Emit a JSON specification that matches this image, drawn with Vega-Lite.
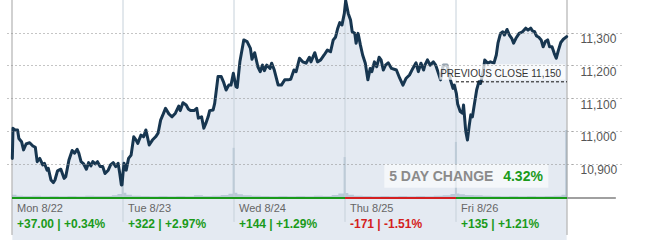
{
  "$schema": "https://vega.github.io/schema/vega-lite/v6.json",
  "width": 565,
  "height": 198,
  "autosize": {"type": "none"},
  "padding": {"left": 7, "top": 0, "right": 73, "bottom": 42},
  "background": "white",
  "config": {
    "view": {"stroke": null},
    "font": "Liberation Sans"
  },
  "datasets": {
    "price": [
      {"t":0.003,"p":10916},{"t":0.009,"p":11008},{"t":0.027,"p":11003},{"t":0.05,"p":11003},{"t":0.062,"p":10977},{"t":0.086,"p":10967},{"t":0.104,"p":10942},{"t":0.127,"p":10960},{"t":0.159,"p":10964},{"t":0.188,"p":10954},{"t":0.21,"p":10950},{"t":0.227,"p":10906},{"t":0.25,"p":10916},{"t":0.277,"p":10896},{"t":0.292,"p":10901},{"t":0.316,"p":10880},{"t":0.327,"p":10886},{"t":0.351,"p":10850},{"t":0.372,"p":10842},{"t":0.387,"p":10850},{"t":0.41,"p":10878},{"t":0.44,"p":10883},{"t":0.469,"p":10855},{"t":0.484,"p":10860},{"t":0.513,"p":10911},{"t":0.542,"p":10940},{"t":0.564,"p":10932},{"t":0.587,"p":10944},{"t":0.602,"p":10932},{"t":0.622,"p":10906},{"t":0.646,"p":10899},{"t":0.67,"p":10883},{"t":0.69,"p":10903},{"t":0.711,"p":10893},{"t":0.728,"p":10906},{"t":0.75,"p":10899},{"t":0.77,"p":10906},{"t":0.794,"p":10891},{"t":0.817,"p":10891},{"t":0.838,"p":10870},{"t":0.867,"p":10880},{"t":0.888,"p":10896},{"t":0.912,"p":10903},{"t":0.935,"p":10891},{"t":0.956,"p":10901},{"t":0.971,"p":10870},{"t":0.985,"p":10835},{"t":0.991,"p":10835},{"t":1.0,"p":10870},
      {"t":1.009,"p":10901},{"t":1.029,"p":10880},{"t":1.05,"p":10916},{"t":1.073,"p":10926},{"t":1.097,"p":10982},{"t":1.118,"p":10972},{"t":1.133,"p":10962},{"t":1.162,"p":10987},{"t":1.186,"p":10982},{"t":1.206,"p":11003},{"t":1.236,"p":10957},{"t":1.265,"p":10972},{"t":1.294,"p":10982},{"t":1.316,"p":10993},{"t":1.339,"p":11033},{"t":1.363,"p":11052},{"t":1.383,"p":11069},{"t":1.413,"p":11052},{"t":1.442,"p":11043},{"t":1.472,"p":11054},{"t":1.502,"p":11076},{"t":1.516,"p":11062},{"t":1.54,"p":11086},{"t":1.569,"p":11079},{"t":1.59,"p":11066},{"t":1.611,"p":11062},{"t":1.64,"p":11062},{"t":1.664,"p":11069},{"t":1.679,"p":11039},{"t":1.708,"p":11043},{"t":1.728,"p":11008},{"t":1.746,"p":11023},{"t":1.767,"p":11043},{"t":1.781,"p":11062},{"t":1.812,"p":11064},{"t":1.826,"p":11084},{"t":1.856,"p":11166},{"t":1.885,"p":11166},{"t":1.905,"p":11150},{"t":1.929,"p":11125},{"t":1.953,"p":11140},{"t":1.973,"p":11140},{"t":1.994,"p":11176},
      {"t":2.018,"p":11135},{"t":2.029,"p":11133},{"t":2.053,"p":11211},{"t":2.088,"p":11278},{"t":2.118,"p":11273},{"t":2.148,"p":11252},{"t":2.162,"p":11219},{"t":2.186,"p":11239},{"t":2.215,"p":11196},{"t":2.236,"p":11181},{"t":2.257,"p":11201},{"t":2.274,"p":11184},{"t":2.295,"p":11201},{"t":2.325,"p":11191},{"t":2.339,"p":11207},{"t":2.363,"p":11186},{"t":2.398,"p":11140},{"t":2.427,"p":11140},{"t":2.457,"p":11156},{"t":2.487,"p":11156},{"t":2.511,"p":11158},{"t":2.54,"p":11186},{"t":2.56,"p":11181},{"t":2.59,"p":11222},{"t":2.619,"p":11211},{"t":2.649,"p":11207},{"t":2.679,"p":11225},{"t":2.693,"p":11211},{"t":2.728,"p":11239},{"t":2.752,"p":11211},{"t":2.781,"p":11217},{"t":2.812,"p":11232},{"t":2.841,"p":11247},{"t":2.87,"p":11242},{"t":2.894,"p":11278},{"t":2.914,"p":11286},{"t":2.935,"p":11314},{"t":2.953,"p":11331},{"t":2.973,"p":11324},{"t":2.994,"p":11359},
      {"t":3.006,"p":11398},{"t":3.029,"p":11359},{"t":3.05,"p":11339},{"t":3.065,"p":11303},{"t":3.088,"p":11298},{"t":3.1,"p":11268},{"t":3.118,"p":11298},{"t":3.139,"p":11262},{"t":3.159,"p":11232},{"t":3.183,"p":11207},{"t":3.206,"p":11156},{"t":3.227,"p":11191},{"t":3.242,"p":11181},{"t":3.265,"p":11211},{"t":3.286,"p":11196},{"t":3.307,"p":11225},{"t":3.325,"p":11217},{"t":3.345,"p":11186},{"t":3.365,"p":11201},{"t":3.389,"p":11208},{"t":3.419,"p":11191},{"t":3.463,"p":11186},{"t":3.493,"p":11161},{"t":3.522,"p":11140},{"t":3.551,"p":11161},{"t":3.581,"p":11171},{"t":3.611,"p":11191},{"t":3.64,"p":11208},{"t":3.661,"p":11181},{"t":3.684,"p":11207},{"t":3.708,"p":11186},{"t":3.72,"p":11201},{"t":3.743,"p":11217},{"t":3.767,"p":11201},{"t":3.796,"p":11211},{"t":3.817,"p":11201},{"t":3.847,"p":11171},{"t":3.861,"p":11156},{"t":3.885,"p":11201},{"t":3.92,"p":11201},{"t":3.95,"p":11156},{"t":3.973,"p":11130},{"t":3.985,"p":11140},
      {"t":4.003,"p":11115},{"t":4.015,"p":11082},{"t":4.038,"p":11059},{"t":4.059,"p":11054},{"t":4.068,"p":11079},{"t":4.088,"p":10998},{"t":4.103,"p":10972},{"t":4.118,"p":11013},{"t":4.133,"p":11049},{"t":4.148,"p":11043},{"t":4.162,"p":11074},{"t":4.186,"p":11125},{"t":4.206,"p":11150},{"t":4.221,"p":11145},{"t":4.245,"p":11181},{"t":4.259,"p":11217},{"t":4.286,"p":11207},{"t":4.31,"p":11211},{"t":4.342,"p":11207},{"t":4.363,"p":11232},{"t":4.378,"p":11268},{"t":4.401,"p":11298},{"t":4.422,"p":11303},{"t":4.436,"p":11293},{"t":4.46,"p":11310},{"t":4.481,"p":11293},{"t":4.502,"p":11283},{"t":4.519,"p":11268},{"t":4.54,"p":11283},{"t":4.569,"p":11298},{"t":4.599,"p":11303},{"t":4.628,"p":11314},{"t":4.649,"p":11308},{"t":4.673,"p":11314},{"t":4.688,"p":11306},{"t":4.708,"p":11303},{"t":4.726,"p":11290},{"t":4.746,"p":11286},{"t":4.767,"p":11278},{"t":4.785,"p":11257},{"t":4.805,"p":11273},{"t":4.826,"p":11278},{"t":4.843,"p":11257},{"t":4.865,"p":11257},{"t":4.885,"p":11237},{"t":4.903,"p":11222},{"t":4.923,"p":11247},{"t":4.944,"p":11270},{"t":4.967,"p":11280},{"t":4.997,"p":11288}
    ],
    "volbase": [
      {"t":0.0,"v":10},{"t":0.04,"v":7},{"t":0.1,"v":6},{"t":0.18,"v":7},{"t":0.26,"v":5},{"t":0.34,"v":6},{"t":0.42,"v":5},{"t":0.5,"v":6},{"t":0.58,"v":5},{"t":0.66,"v":7},{"t":0.74,"v":6},{"t":0.82,"v":6},{"t":0.9,"v":8},{"t":0.95,"v":12},
      {"t":1.0,"v":16},{"t":1.03,"v":10},{"t":1.08,"v":7},{"t":1.16,"v":6},{"t":1.24,"v":5},{"t":1.32,"v":6},{"t":1.4,"v":5},{"t":1.48,"v":6},{"t":1.56,"v":5},{"t":1.64,"v":8},{"t":1.72,"v":6},{"t":1.8,"v":7},{"t":1.88,"v":9},{"t":1.95,"v":13},
      {"t":2.0,"v":16},{"t":2.03,"v":11},{"t":2.08,"v":8},{"t":2.16,"v":7},{"t":2.24,"v":6},{"t":2.32,"v":5},{"t":2.4,"v":6},{"t":2.48,"v":5},{"t":2.56,"v":6},{"t":2.64,"v":5},{"t":2.72,"v":7},{"t":2.8,"v":6},{"t":2.88,"v":9},{"t":2.94,"v":14},
      {"t":3.0,"v":15},{"t":3.03,"v":10},{"t":3.08,"v":7},{"t":3.16,"v":6},{"t":3.24,"v":5},{"t":3.32,"v":6},{"t":3.4,"v":5},{"t":3.48,"v":6},{"t":3.56,"v":5},{"t":3.64,"v":6},{"t":3.72,"v":5},{"t":3.8,"v":7},{"t":3.88,"v":8},{"t":3.95,"v":12},
      {"t":4.0,"v":14},{"t":4.03,"v":11},{"t":4.08,"v":9},{"t":4.16,"v":8},{"t":4.24,"v":7},{"t":4.32,"v":6},{"t":4.4,"v":5},{"t":4.48,"v":6},{"t":4.56,"v":5},{"t":4.64,"v":6},{"t":4.72,"v":5},{"t":4.8,"v":6},{"t":4.88,"v":7},{"t":4.95,"v":10},{"t":5.0,"v":10}
    ],
    "volspike": [
      {"t":0.997,"v":145},{"t":1.997,"v":152},{"t":2.997,"v":124},{"t":3.999,"v":170},{"t":4.994,"v":206}
    ],
    "seps": [
      {"t":0,"top":11400,"bot":10682,"kind":"edge"},{"t":1,"top":11400,"bot":10722,"kind":"inner"},{"t":2,"top":11400,"bot":10722,"kind":"inner"},{"t":3,"top":11400,"bot":10722,"kind":"inner"},{"t":4,"top":11400,"bot":10722,"kind":"inner"},{"t":5,"top":11400,"bot":10682,"kind":"edge"}
    ],
    "base": [
      {"a":0,"b":3,"lvl":10795,"kind":"up"},{"a":3,"b":4,"lvl":10795,"kind":"down"},{"a":4,"b":5,"lvl":10795,"kind":"up"},{"a":5,"b":5.44,"lvl":10795,"kind":"axis"}
    ],
    "days": [
      {"t":0,"day":"Mon 8/22","chg":"+37.00 | +0.34%","dir":"up"},
      {"t":1,"day":"Tue 8/23","chg":"+322 | +2.97%","dir":"up"},
      {"t":2,"day":"Wed 8/24","chg":"+144 | +1.29%","dir":"up"},
      {"t":3,"day":"Thu 8/25","chg":"-171 | -1.51%","dir":"down"},
      {"t":4,"day":"Fri 8/26","chg":"+135 | +1.21%","dir":"up"}
    ]
  },
  "layer": [
    {
      "data": {"name": "price"},
      "mark": {"type": "area", "color": "#e4eaf2", "opacity": 1},
      "encoding": {
        "x": {"field": "t", "type": "quantitative", "scale": {"domain": [0, 5], "nice": false, "zero": false}, "axis": null},
        "y": {
          "field": "p", "type": "quantitative",
          "scale": {"domain": [10795, 11400], "nice": false, "zero": false},
          "axis": {
            "orient": "right", "values": [10900, 11000, 11100, 11200, 11300],
            "labelExpr": "format(datum.value, ',')",
            "title": null, "domain": false,
            "grid": true, "gridDash": [1, 3], "gridColor": "#8a8a8a", "gridWidth": 1, "gridOpacity": 1,
            "ticks": true, "tickSize": 50, "tickDash": [1, 3], "tickColor": "#8a8a8a", "tickWidth": 1,
            "labelPadding": -42, "labelAlign": "left", "labelBaseline": "top", "labelOffset": 1,
            "labelFont": "Liberation Sans", "labelFontSize": 12, "labelColor": "#555555",
            "zindex": 1
          }
        }
      }
    },
    {
      "data": {"name": "volbase"},
      "mark": {"type": "area", "interpolate": "step-after", "color": "#b9c9d7", "opacity": 1},
      "encoding": {
        "x": {"field": "t", "type": "quantitative"},
        "y": {"field": "v", "type": "quantitative", "scale": {"domain": [0, 600], "nice": false}, "axis": null}
      }
    },
    {
      "data": {"name": "volspike"},
      "mark": {"type": "bar", "width": 2, "color": "#b4c5d4"},
      "encoding": {
        "x": {"field": "t", "type": "quantitative"},
        "y": {"field": "v", "type": "quantitative", "scale": {"domain": [0, 600], "nice": false}, "axis": null}
      }
    },
    {
      "data": {"name": "seps"},
      "transform": [{"filter": "datum.kind === 'inner'"}],
      "mark": {"type": "rule", "strokeWidth": 1, "color": "#c6d1da"},
      "encoding": {
        "x": {"field": "t", "type": "quantitative"},
        "y": {"field": "top", "type": "quantitative", "scale": {"domain": [10795, 11400], "nice": false, "zero": false}, "axis": null},
        "y2": {"field": "bot"}
      }
    },
    {
      "data": {"name": "seps"},
      "transform": [{"filter": "datum.kind === 'edge'"}],
      "mark": {"type": "rule", "strokeWidth": 1, "color": "#a3a3a3"},
      "encoding": {
        "x": {"field": "t", "type": "quantitative"},
        "y": {"field": "top", "type": "quantitative", "scale": {"domain": [10795, 11400], "nice": false, "zero": false}, "axis": null},
        "y2": {"field": "bot"}
      }
    },
    {
      "data": {"name": "price"},
      "mark": {"type": "line", "color": "#173650", "strokeWidth": 3, "strokeJoin": "round", "strokeCap": "round"},
      "encoding": {
        "x": {"field": "t", "type": "quantitative"},
        "y": {"field": "p", "type": "quantitative", "scale": {"domain": [10795, 11400], "nice": false, "zero": false}, "axis": null}
      }
    },
    {
      "data": {"name": "base"},
      "transform": [{"filter": "datum.kind === 'up'"}],
      "mark": {"type": "rule", "strokeWidth": 2, "color": "#1a9a1a"},
      "encoding": {
        "x": {"field": "a", "type": "quantitative"},
        "x2": {"field": "b"},
        "y": {"field": "lvl", "type": "quantitative", "scale": {"domain": [10795, 11400], "nice": false, "zero": false}, "axis": null}
      }
    },
    {
      "data": {"name": "base"},
      "transform": [{"filter": "datum.kind === 'down'"}],
      "mark": {"type": "rule", "strokeWidth": 2, "color": "#d42020"},
      "encoding": {
        "x": {"field": "a", "type": "quantitative"},
        "x2": {"field": "b"},
        "y": {"field": "lvl", "type": "quantitative", "scale": {"domain": [10795, 11400], "nice": false, "zero": false}, "axis": null}
      }
    },
    {
      "data": {"name": "base"},
      "transform": [{"filter": "datum.kind === 'axis'"}],
      "mark": {"type": "rule", "strokeWidth": 2, "color": "#a0a0a0"},
      "encoding": {
        "x": {"field": "a", "type": "quantitative"},
        "x2": {"field": "b"},
        "y": {"field": "lvl", "type": "quantitative", "scale": {"domain": [10795, 11400], "nice": false, "zero": false}, "axis": null}
      }
    },
    {
      "data": {"values": [{"a": 3.85, "b": 4.982, "lo": 11156, "hi": 11204}]},
      "mark": {"type": "rect", "color": "white", "opacity": 0.75},
      "encoding": {
        "x": {"field": "a", "type": "quantitative"},
        "x2": {"field": "b"},
        "y": {"field": "lo", "type": "quantitative", "scale": {"domain": [10795, 11400], "nice": false, "zero": false}, "axis": null},
        "y2": {"field": "hi"}
      }
    },
    {
      "data": {"values": [{"a": 4, "b": 5, "close": 11150}]},
      "mark": {"type": "rule", "color": "#111111", "strokeWidth": 1, "strokeDash": [3, 2]},
      "encoding": {
        "x": {"field": "a", "type": "quantitative"},
        "x2": {"field": "b"},
        "y": {"field": "close", "type": "quantitative", "scale": {"domain": [10795, 11400], "nice": false, "zero": false}, "axis": null}
      }
    },
    {
      "data": {"values": [{"x": 4.947, "close": 11150, "label": "PREVIOUS CLOSE 11,150"}]},
      "mark": {"type": "text", "align": "right", "baseline": "alphabetic", "font": "Liberation Sans", "fontSize": 10, "color": "#333333", "dy": -5},
      "encoding": {
        "x": {"field": "x", "type": "quantitative"},
        "y": {"field": "close", "type": "quantitative", "scale": {"domain": [10795, 11400], "nice": false, "zero": false}, "axis": null},
        "text": {"field": "label", "type": "nominal"}
      }
    },
    {
      "data": {"values": [{"a": 3.354, "b": 4.832, "lo": 10826, "hi": 10899}]},
      "mark": {"type": "rect", "color": "white", "opacity": 0.6},
      "encoding": {
        "x": {"field": "a", "type": "quantitative"},
        "x2": {"field": "b"},
        "y": {"field": "lo", "type": "quantitative", "scale": {"domain": [10795, 11400], "nice": false, "zero": false}, "axis": null},
        "y2": {"field": "hi"}
      }
    },
    {
      "data": {"values": [{"x": 3.398, "y": 10847, "label": "5 DAY CHANGE"}]},
      "mark": {"type": "text", "align": "left", "baseline": "alphabetic", "font": "Liberation Sans", "fontSize": 14, "fontWeight": "bold", "color": "#8a8a8a"},
      "encoding": {
        "x": {"field": "x", "type": "quantitative"},
        "y": {"field": "y", "type": "quantitative", "scale": {"domain": [10795, 11400], "nice": false, "zero": false}, "axis": null},
        "text": {"field": "label", "type": "nominal"}
      }
    },
    {
      "data": {"values": [{"x": 4.425, "y": 10847, "label": "4.32%"}]},
      "mark": {"type": "text", "align": "left", "baseline": "alphabetic", "font": "Liberation Sans", "fontSize": 14, "fontWeight": "bold", "color": "#1a9a1a"},
      "encoding": {
        "x": {"field": "x", "type": "quantitative"},
        "y": {"field": "y", "type": "quantitative", "scale": {"domain": [10795, 11400], "nice": false, "zero": false}, "axis": null},
        "text": {"field": "label", "type": "nominal"}
      }
    },
    {
      "data": {"name": "days"},
      "mark": {"type": "text", "align": "left", "baseline": "alphabetic", "font": "Liberation Sans", "fontSize": 11, "color": "#666666", "dx": 5},
      "encoding": {
        "x": {"field": "t", "type": "quantitative"},
        "y": {"datum": 10752, "type": "quantitative", "scale": {"domain": [10795, 11400], "nice": false, "zero": false}, "axis": null},
        "text": {"field": "day", "type": "nominal"}
      }
    },
    {
      "data": {"name": "days"},
      "transform": [{"filter": "datum.dir === 'up'"}],
      "mark": {"type": "text", "align": "left", "baseline": "alphabetic", "font": "Liberation Sans", "fontSize": 12, "fontWeight": "bold", "color": "#1a9a1a", "dx": 5},
      "encoding": {
        "x": {"field": "t", "type": "quantitative"},
        "y": {"datum": 10703, "type": "quantitative", "scale": {"domain": [10795, 11400], "nice": false, "zero": false}, "axis": null},
        "text": {"field": "chg", "type": "nominal"}
      }
    },
    {
      "data": {"name": "days"},
      "transform": [{"filter": "datum.dir === 'down'"}],
      "mark": {"type": "text", "align": "left", "baseline": "alphabetic", "font": "Liberation Sans", "fontSize": 12, "fontWeight": "bold", "color": "#d42020", "dx": 5},
      "encoding": {
        "x": {"field": "t", "type": "quantitative"},
        "y": {"datum": 10703, "type": "quantitative", "scale": {"domain": [10795, 11400], "nice": false, "zero": false}, "axis": null},
        "text": {"field": "chg", "type": "nominal"}
      }
    }
  ],
  "resolve": {"scale": {"y": "independent"}}
}
